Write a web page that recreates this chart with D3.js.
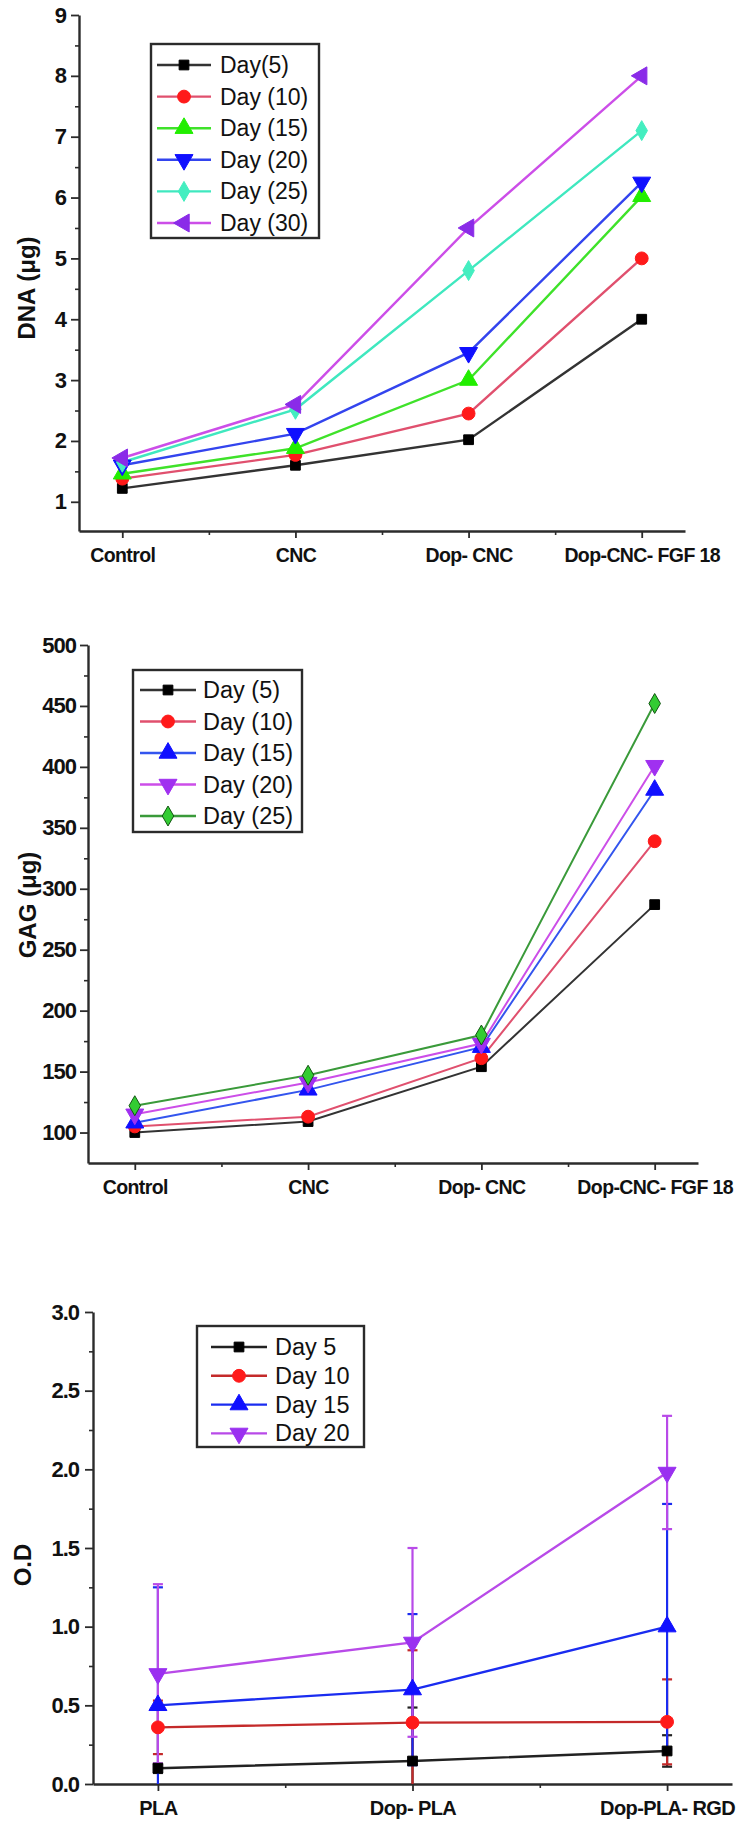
<!DOCTYPE html>
<html>
<head>
<meta charset="utf-8">
<script src="https://cdn.jsdelivr.net/npm/d3@7/dist/d3.min.js"></script>
<style>
  html, body { margin: 0; padding: 0; background: #fff; }
  svg { display: block; }
  text { font-family: "Liberation Sans", Arial, sans-serif; }
</style>
</head>
<body>
<svg id="chart" width="752" height="1822"></svg>
<script>
// ---------- DATA ----------
// Panel 1: DNA
const dnaCategories = ["Control", "CNC", "Dop- CNC", "Dop-CNC- FGF 18"];
const dnaSeriesNames = ["Day(5)", "Day (10)", "Day (15)", "Day (20)", "Day (25)", "Day (30)"];
const dnaDay5  = [1.22, 1.60, 2.02, 4.00];
const dnaDay10 = [1.38, 1.77, 2.45, 5.00];
const dnaDay15 = [1.46, 1.88, 3.00, 6.02];
const dnaDay20 = [1.60, 2.12, 3.45, 6.25];
const dnaDay25 = [1.65, 2.52, 4.80, 7.10];
const dnaDay30 = [1.72, 2.60, 5.50, 8.00];
const dnaTicks = [1, 2, 3, 4, 5, 6, 7, 8, 9];

// Panel 2: GAG
const gagCategories = ["Control", "CNC", "Dop- CNC", "Dop-CNC- FGF 18"];
const gagSeriesNames = ["Day (5)", "Day (10)", "Day (15)", "Day (20)", "Day (25)"];
const gagDay5  = [100, 109, 154, 287];
const gagDay10 = [105, 113, 161, 339];
const gagDay15 = [108, 135, 170, 381];
const gagDay20 = [115, 141, 173, 401];
const gagDay25 = [122, 147, 180, 452];
const gagTicks = [100, 150, 200, 250, 300, 350, 400, 450, 500];

// Panel 3: O.D
const odCategories = ["PLA", "Dop- PLA", "Dop-PLA- RGD"];
const odSeriesNames = ["Day 5", "Day 10", "Day 15", "Day 20"];
const odDay5  = [0.10, 0.146, 0.21];
const odDay10 = [0.36, 0.39, 0.395];
const odDay15 = [0.50, 0.60, 1.00];
const odDay20 = [0.70, 0.90, 1.98];
const odErr5  = [0.03, 0.34, 0.10];
const odErr10 = [0.17, 0.46, 0.27];
const odErr15 = [0.75, 0.48, 0.78];
const odErr20 = [0.57, 0.60, 0.36];
const odTicks = [0, 0.5, 1.0, 1.5, 2.0, 2.5, 3.0];

// ---------- DRAWING ----------
const svg = d3.select("#chart");
const AXIS = "#2b2b2b";

const sym = {
  square:   {type: d3.symbolSquare,   rot: 0,   size: 95},
  circle:   {type: d3.symbolCircle,   rot: 0,   size: 130},
  up:       {type: d3.symbolTriangle, rot: 0,   size: 140},
  down:     {type: d3.symbolTriangle, rot: 180, size: 140},
  left:     {type: d3.symbolTriangle, rot: -90, size: 140},
  diamond:  {type: d3.symbolDiamond,  rot: 0,   size: 115}
};

function drawPanel(cfg) {
  const g = svg.append("g");
  const x = d3.scaleLinear().domain(cfg.xDomain).range(cfg.xRange);
  const y = d3.scaleLinear().domain(cfg.yDomain).range(cfg.yRange);
  const x0 = cfg.xRange[0], yBase = cfg.yRange[0];

  // minor y ticks
  g.append("g").attr("transform", `translate(${x0},0)`)
    .call(d3.axisLeft(y).tickValues(cfg.yMinor).tickSize(4).tickFormat(""))
    .call(s => s.select(".domain").remove())
    .call(s => s.selectAll("line").attr("stroke", AXIS).attr("stroke-width", 1.6));
  // major y axis
  const ya = g.append("g").attr("transform", `translate(${x0},0)`)
    .call(d3.axisLeft(y).tickValues(cfg.yTicks).tickSize(8).tickSizeOuter(0)
      .tickPadding(cfg.yPad).tickFormat(cfg.yFormat));
  ya.select(".domain").attr("stroke", AXIS).attr("stroke-width", 2.4);
  ya.selectAll("line").attr("stroke", AXIS).attr("stroke-width", 1.8);
  ya.selectAll("text").attr("font-size", cfg.yFont).attr("font-weight", "bold")
    .attr("letter-spacing", "-1px").attr("fill", "#111");

  // minor x ticks
  g.append("g").attr("transform", `translate(0,${yBase})`)
    .call(d3.axisBottom(x).tickValues(cfg.xMinor).tickSize(4).tickFormat(""))
    .call(s => s.select(".domain").remove())
    .call(s => s.selectAll("line").attr("stroke", AXIS).attr("stroke-width", 1.6));
  // major x axis
  const xa = g.append("g").attr("transform", `translate(0,${yBase})`)
    .call(d3.axisBottom(x).tickValues(d3.range(cfg.categories.length))
      .tickFormat(i => cfg.categories[i]).tickSize(7).tickSizeOuter(0).tickPadding(10));
  xa.select(".domain").attr("stroke", AXIS).attr("stroke-width", 2.4);
  xa.selectAll("line").attr("stroke", AXIS).attr("stroke-width", 1.8);
  xa.selectAll("text").attr("font-size", cfg.xFont).attr("font-weight", "bold")
    .attr("letter-spacing", "-0.6px").attr("fill", "#111");

  // y title
  g.append("text")
    .attr("transform", `translate(${cfg.titleX},${cfg.titleY}) rotate(-90)`)
    .attr("text-anchor", "middle").attr("dominant-baseline", "central")
    .attr("font-size", 24).attr("font-weight", "bold").attr("fill", "#111")
    .text(cfg.title);

  // error bars
  if (cfg.errors) {
    const [lo, hi] = cfg.yDomain;
    cfg.series.forEach((s, si) => {
      const e = cfg.errors[si];
      if (!e) return;
      s.values.forEach((v, i) => {
        const a = Math.max(lo, v - e[i]), b = Math.min(hi, v + e[i]);
        const cx = x(i);
        g.append("line").attr("x1", cx).attr("x2", cx).attr("y1", y(a)).attr("y2", y(b))
          .attr("stroke", s.line).attr("stroke-width", 2.2);
        [v - e[i], v + e[i]].forEach(c => {
          if (c >= lo && c <= hi) {
            g.append("line").attr("x1", cx - 5).attr("x2", cx + 5).attr("y1", y(c)).attr("y2", y(c))
              .attr("stroke", s.line).attr("stroke-width", 2.2);
          }
        });
      });
    });
  }

  // lines + markers
  const lineGen = d3.line().x((d, i) => x(i)).y(d => y(d));
  cfg.series.forEach(s => {
    g.append("path").datum(s.values).attr("d", lineGen)
      .attr("fill", "none").attr("stroke", s.line).attr("stroke-width", cfg.lineW);
  });
  cfg.series.forEach(s => {
    const m = sym[s.symbol];
    g.selectAll(null).data(s.values).enter().append("path")
      .attr("d", d3.symbol().type(m.type).size(m.size))
      .attr("transform", (d, i) => `translate(${x(i)},${y(d)}) rotate(${m.rot})`)
      .attr("fill", s.marker).attr("stroke", s.markerStroke || s.marker).attr("stroke-width", 1);
  });

  // legend
  const L = cfg.legend;
  g.append("rect").attr("x", L.x).attr("y", L.y).attr("width", L.w).attr("height", L.h)
    .attr("fill", "#fff").attr("stroke", AXIS).attr("stroke-width", 2.4);
  cfg.series.forEach((s, i) => {
    const ly = L.firstY + i * L.step;
    g.append("line").attr("x1", L.lineX1).attr("x2", L.lineX2).attr("y1", ly).attr("y2", ly)
      .attr("stroke", s.line).attr("stroke-width", 2.4);
    const m = sym[s.symbol];
    g.append("path").attr("d", d3.symbol().type(m.type).size(m.size))
      .attr("transform", `translate(${(L.lineX1 + L.lineX2) / 2},${ly}) rotate(${m.rot})`)
      .attr("fill", s.marker).attr("stroke", s.markerStroke || s.marker);
    g.append("text").attr("x", L.textX).attr("y", ly).attr("dominant-baseline", "central")
      .attr("font-size", L.font).attr("fill", "#111").text(s.name);
  });
}

// Panel 1
drawPanel({
  categories: dnaCategories,
  xDomain: [-0.25, 3.25], xRange: [79, 685],
  yDomain: [0.52, 9], yRange: [531, 15],
  yTicks: dnaTicks, yMinor: d3.range(1.5, 9, 1), yFormat: d3.format("d"),
  xMinor: [0.5, 1.5, 2.5],
  yPad: 5, yFont: 22, xFont: 19.5, lineW: 2.4,
  title: "DNA (μg)", titleX: 26, titleY: 288,
  series: [
    {name: dnaSeriesNames[0], values: dnaDay5,  line: "#333333", marker: "#000000", symbol: "square"},
    {name: dnaSeriesNames[1], values: dnaDay10, line: "#e0506e", marker: "#ff1a1a", symbol: "circle"},
    {name: dnaSeriesNames[2], values: dnaDay15, line: "#3fe22a", marker: "#22ee00", symbol: "up"},
    {name: dnaSeriesNames[3], values: dnaDay20, line: "#3344ee", marker: "#1010ff", symbol: "down"},
    {name: dnaSeriesNames[4], values: dnaDay25, line: "#3fe8bf", marker: "#44eec0", symbol: "diamond"},
    {name: dnaSeriesNames[5], values: dnaDay30, line: "#cc4ee8", marker: "#8a2be8", symbol: "left"}
  ],
  legend: {x: 151, y: 44, w: 168, h: 194, firstY: 65, step: 31.6, lineX1: 157, lineX2: 211, textX: 220, font: 23}
});

// Panel 2
drawPanel({
  categories: gagCategories,
  xDomain: [-0.27, 3.25], xRange: [88, 698],
  yDomain: [75, 500], yRange: [1163, 645],
  yTicks: gagTicks, yMinor: d3.range(125, 500, 50), yFormat: d3.format("d"),
  xMinor: [0.5, 1.5, 2.5],
  yPad: 4, yFont: 22, xFont: 19.5, lineW: 2,
  title: "GAG (μg)", titleX: 27, titleY: 905,
  series: [
    {name: gagSeriesNames[0], values: gagDay5,  line: "#333333", marker: "#000000", symbol: "square"},
    {name: gagSeriesNames[1], values: gagDay10, line: "#e0506e", marker: "#ff1a1a", symbol: "circle"},
    {name: gagSeriesNames[2], values: gagDay15, line: "#3355ee", marker: "#1010ff", symbol: "up"},
    {name: gagSeriesNames[3], values: gagDay20, line: "#cc4ee8", marker: "#a030f0", symbol: "down"},
    {name: gagSeriesNames[4], values: gagDay25, line: "#3a9a3a", marker: "#33cc33", markerStroke: "#115511", symbol: "diamond"}
  ],
  legend: {x: 133, y: 670, w: 169, h: 162, firstY: 690, step: 31.5, lineX1: 140, lineX2: 196, textX: 203, font: 23.5}
});

// Panel 3
drawPanel({
  categories: odCategories,
  xDomain: [-0.255, 2.255], xRange: [93, 732],
  yDomain: [0, 3], yRange: [1784, 1312],
  yTicks: odTicks, yMinor: d3.range(0.25, 3, 0.5), yFormat: d3.format(".1f"),
  xMinor: [0.5, 1.5],
  yPad: 6, yFont: 22, xFont: 20, lineW: 2.4,
  title: "O.D", titleX: 22, titleY: 1565,
  series: [
    {name: odSeriesNames[0], values: odDay5,  line: "#222222", marker: "#000000", symbol: "square"},
    {name: odSeriesNames[1], values: odDay10, line: "#c42a2a", marker: "#ff1a1a", symbol: "circle"},
    {name: odSeriesNames[2], values: odDay15, line: "#1a2cf0", marker: "#1010ff", symbol: "up"},
    {name: odSeriesNames[3], values: odDay20, line: "#b84ae8", marker: "#9a30f0", symbol: "down"}
  ],
  errors: [odErr5, odErr10, odErr15, odErr20],
  legend: {x: 197, y: 1326, w: 167, h: 121, firstY: 1347, step: 28.8, lineX1: 211, lineX2: 267, textX: 275, font: 23.5}
});
</script>
</body>
</html>
